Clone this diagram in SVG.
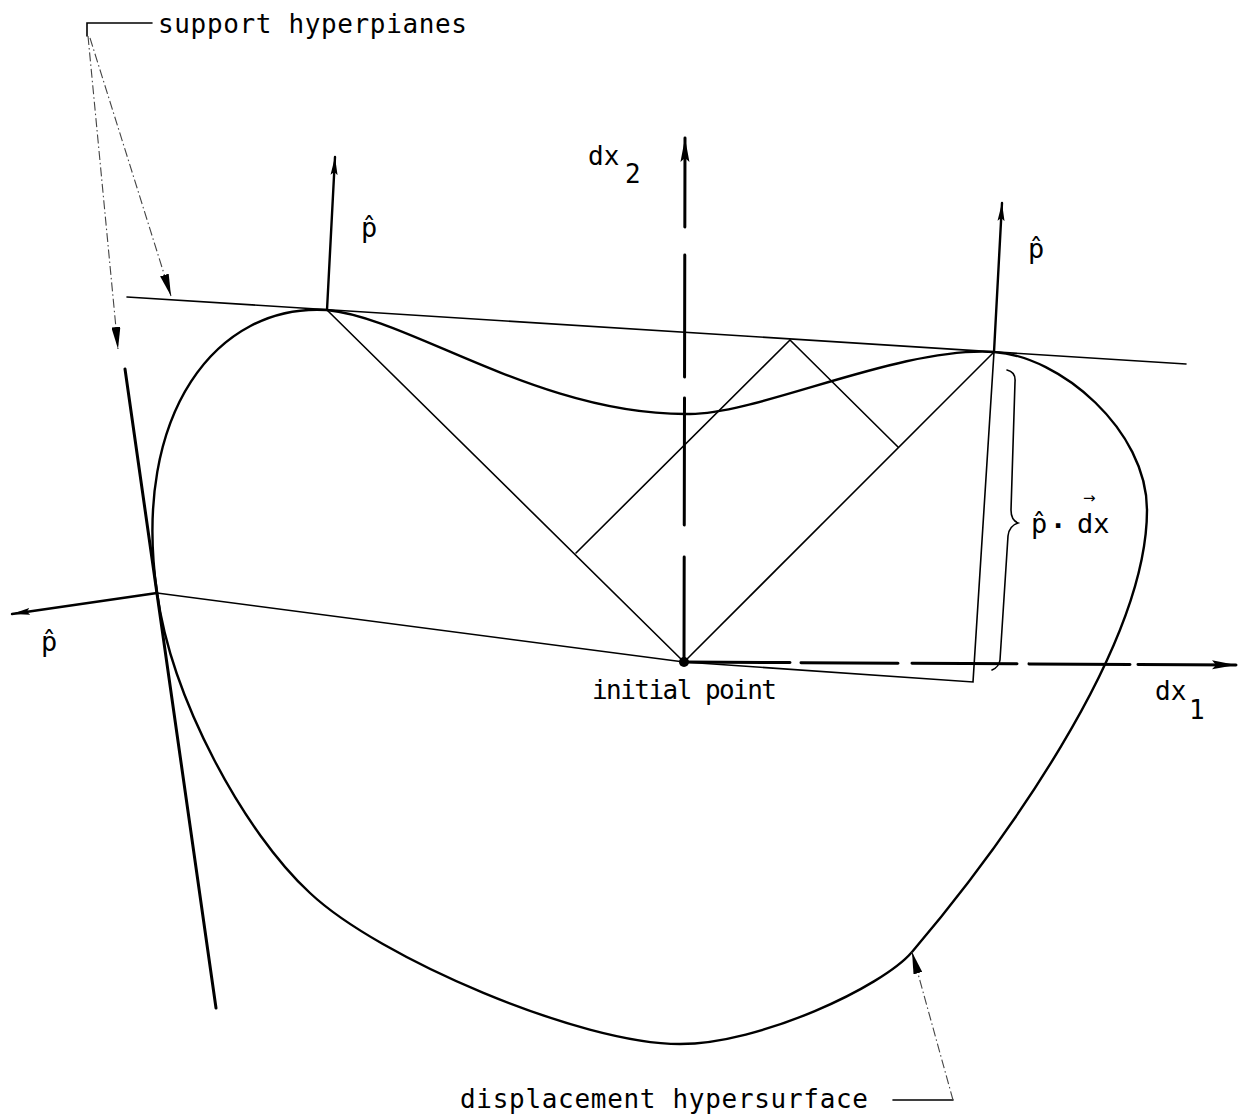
<svg xmlns="http://www.w3.org/2000/svg" width="1240" height="1117" viewBox="0 0 1240 1117">
<style>
.thin{fill:none;stroke:#000;stroke-width:1.6;stroke-linecap:round}
.med{fill:none;stroke:#000;stroke-width:2.4;stroke-linecap:round}
.thick{fill:none;stroke:#000;stroke-width:3;stroke-linecap:round}
.lead{fill:none;stroke:#444;stroke-width:1.1;stroke-dasharray:9 3 1.5 3}
.t{font-family:"DejaVu Sans Mono","Liberation Mono",monospace;font-size:26px;fill:#000}
.lab{font-family:"DejaVu Sans Mono","Liberation Mono",monospace;font-size:27px;fill:#000}
</style>
<defs>
<marker id="ah" viewBox="0 0 18 8" refX="18" refY="4" markerWidth="18" markerHeight="8" markerUnits="userSpaceOnUse" orient="auto"><path d="M0,0.5 L18,4 L0,7.5 L3,4 z" fill="#000"/></marker>
<marker id="ax" viewBox="0 0 24 10" refX="24" refY="5" markerWidth="24" markerHeight="10" markerUnits="userSpaceOnUse" orient="auto"><path d="M0,0.5 L24,5 L0,9.5 L4,5 z" fill="#000"/></marker>
<marker id="al" viewBox="0 0 22 9" refX="22" refY="4.5" markerWidth="22" markerHeight="9" markerUnits="userSpaceOnUse" orient="auto"><path d="M0,0 L22,4.5 L0,9 z" fill="#000"/></marker>
</defs>

<g id="hypersurface">
<path class="med" d="M327,310 C410,318 540,416 690,414 C760,414 900,346 994,352 C1060,356 1147,430 1147,510 C1147,650 996,853 912,952 C882,987 760,1044 680,1044 C580,1044 379,958 310,893 C244,832 172,700 157,593 C131.4,413 217,303 327,310 Z"/>
</g>

<g id="axes">
<line class="thick" x1="684" y1="662" x2="685" y2="138" stroke-dasharray="105 32 127 21 122 28 300" marker-end="url(#ax)"/>
<line class="thick" x1="684" y1="662" x2="1236" y2="665" stroke-dasharray="106 11 97 14 105 12 101 8 300" marker-end="url(#ax)"/>
<circle id="initial-point" cx="684" cy="662" r="5" fill="#000"/>
</g>

<g id="support-planes">
<line class="thin" x1="127" y1="297" x2="1186" y2="364"/>
<line class="thick" x1="125" y1="369" x2="216" y2="1008"/>
</g>

<g id="connectors">
<line class="med" x1="327" y1="310" x2="335" y2="157" marker-end="url(#ah)"/>
<line class="med" x1="994" y1="352" x2="1002" y2="203" marker-end="url(#ah)"/>
<line class="med" x1="157" y1="593" x2="12" y2="614" marker-end="url(#ah)"/>
<line class="thin" x1="327" y1="310" x2="684" y2="662"/>
<line class="thin" x1="684" y1="662" x2="994" y2="352"/>
<line class="thin" x1="157" y1="593" x2="684" y2="662"/>
<line class="thin" x1="790" y1="340" x2="576" y2="553"/>
<line class="thin" x1="790" y1="340" x2="898" y2="447"/>
<polyline class="thin" points="994,352 973,682 684,662"/>
<path class="thin" d="M1007,370 Q1016,372 1015,382 L1011,510 Q1011,520 1018,523 Q1009,526 1008,536 L1000,660 Q999,667 992,670"/>
<path class="thin" d="M152,23 H87 V36"/>
<line class="lead" x1="88" y1="36" x2="118" y2="349" marker-end="url(#al)"/>
<line class="lead" x1="90" y1="38" x2="171" y2="296" marker-end="url(#al)"/>
<path class="thin" d="M893,1100 H953" stroke-width="1.3"/>
<line class="lead" x1="953" y1="1100" x2="912" y2="952" marker-end="url(#al)"/>
</g>

<g id="labels">
<text class="t" x="158" y="33" textLength="309" lengthAdjust="spacing">support hyperpianes</text>
<text class="t" x="592" y="699" textLength="185" lengthAdjust="spacing">initial point</text>
<text class="t" x="460" y="1108" textLength="408" lengthAdjust="spacing">displacement hypersurface</text>
<text class="t" x="588" y="165">dx<tspan x="625" y="183">2</tspan></text>
<text class="t" x="1155" y="700">dx<tspan x="1189" y="719">1</tspan></text>
<text class="lab" x="361" y="237">p̂</text>
<text class="lab" x="1028" y="258">p̂</text>
<text class="lab" x="41" y="651">p̂</text>
<text class="lab" x="1031" y="533">p̂<tspan x="1050" y="535" font-weight="bold">·</tspan><tspan x="1077" y="533">dx</tspan></text>
<text x="1083" y="503" font-family="DejaVu Sans,sans-serif" font-size="15">→</text>
</g>
</svg>
